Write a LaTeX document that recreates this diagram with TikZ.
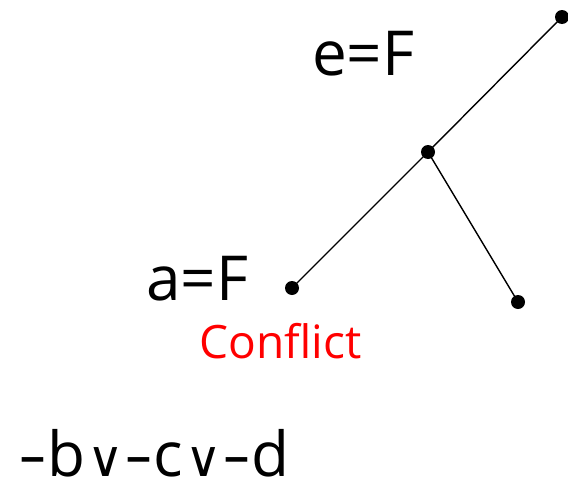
\documentclass[tikz,border=0pt]{standalone}
\usepackage{fontspec}
\usepackage{graphicx}
\setmainfont{Open Sans}
\newfontfamily\symfont{DejaVu Sans}
\newcommand{\orsym}{\hspace{2pt}{\symfont\fontsize{50}{50}\selectfont ∨}\hspace{1pt}}
\newcommand{\dsh}{\scalebox{1.45}[1]{-}}
\begin{document}
\begin{tikzpicture}[x=1pt,y=-1pt,
  dot/.style={circle,fill=black,inner sep=0pt,minimum size=14pt},
  lbl/.style={anchor=base west,inner sep=0pt,font=\fontsize{62}{62}\selectfont},
  edge/.style={line width=1.4pt}]
\useasboundingbox (0,0) rectangle (568,482);
\node[dot] (top) at (562,17) {};
\node[dot] (mid) at (428,152) {};
\node[dot] (left) at (292,288) {};
\node[dot] (right) at (518,302) {};
\draw[edge] (top.center) -- (mid.center);
\draw[edge] (mid.center) -- (left.center);
\draw[edge] (mid.center) -- (right.center);
\node[lbl] (e) at (312,75) {e=F};
\node[lbl] (a) at (146,300) {a=F};
\node[anchor=base west,inner sep=0pt,font=\fontsize{46}{46}\selectfont,text=red] (c) at (199,358) {Conflict};
\node[lbl] (cl) at (18,476) {\dsh b\orsym\dsh c\orsym\dsh d};
\end{tikzpicture}
\end{document}
